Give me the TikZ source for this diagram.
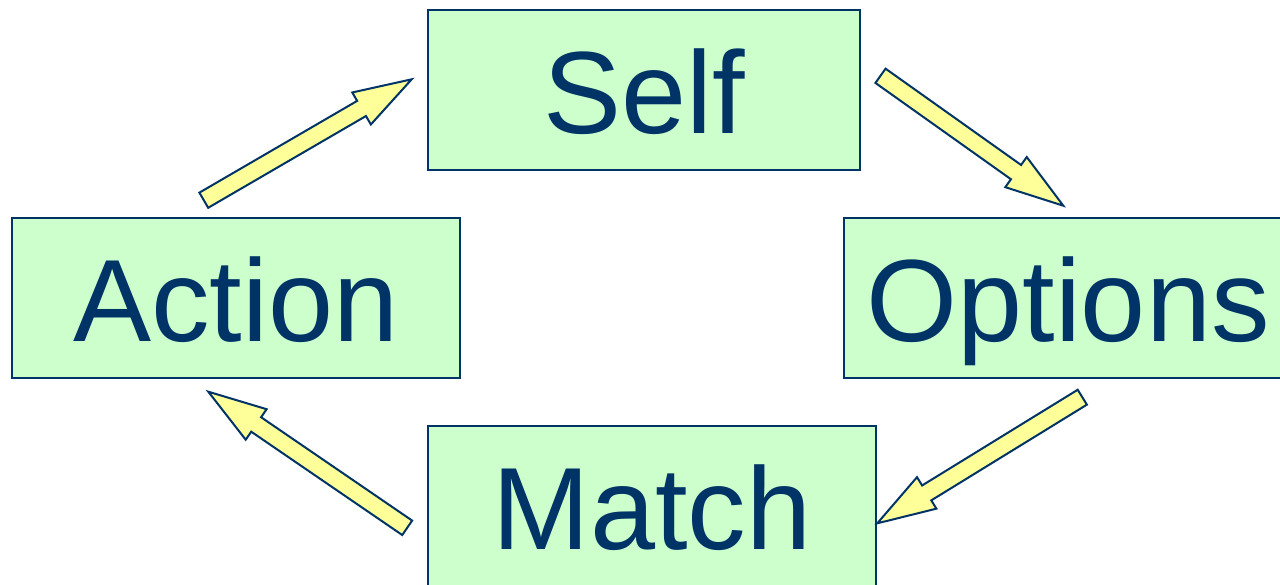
\documentclass[tikz,border=0pt]{standalone}
\usepackage{fontspec}
\setmainfont{Liberation Sans}
\usetikzlibrary{calc}
\definecolor{boxfill}{HTML}{CCFFCC}
\definecolor{navy}{HTML}{003366}
\definecolor{arrowfill}{HTML}{FFFF99}
\tikzset{
  stagebox/.style={draw=navy, line width=2pt, fill=boxfill, rectangle,
    minimum height=160pt, inner sep=0pt, text=navy,
    font=\fontsize{117}{132}\selectfont, text height=87pt, text depth=0pt},
  blockarrowstyle/.style={draw=navy, line width=2pt, fill=arrowfill, line join=miter}
}
\newcommand\blockarrow[2]{%
  \coordinate (#1h) at ($(#2)!58pt!(#1)$);
  \path[blockarrowstyle]
    ($(#1)!8.75pt!90:(#2)$) -- ($(#1h)!8.75pt!-90:(#1)$) -- ($(#1h)!18.5pt!-90:(#1)$)
    -- (#2) -- ($(#1h)!18.5pt!90:(#1)$) -- ($(#1h)!8.75pt!90:(#1)$)
    -- ($(#1)!8.75pt!-90:(#2)$) -- cycle;}
\begin{document}
\begin{tikzpicture}[x=1pt,y=-1pt]
\useasboundingbox (0,0) rectangle (1280,584);
\node[stagebox, minimum width=432pt] (self) at (644,90) {Self};
\node[stagebox, minimum width=448pt] (action) at (236,298) {Action};
\node[stagebox, minimum width=448pt] (options) at (1068,298) {Options};
\node[stagebox, minimum width=448pt] (match) at (652,506) {Match};
% arrow end points
\coordinate (a1t) at (203.8,200.2);  \coordinate (a1p) at (411.7,79.3);
\coordinate (a2t) at (880.5,75.8);   \coordinate (a2p) at (1063.3,205.7);
\coordinate (a3t) at (1082.3,397.2); \coordinate (a3p) at (877.3,523.3);
\coordinate (a4t) at (407.2,527.8);  \coordinate (a4p) at (208.3,391.7);
\blockarrow{a1t}{a1p}
\blockarrow{a2t}{a2p}
\blockarrow{a3t}{a3p}
\blockarrow{a4t}{a4p}
\end{tikzpicture}
\end{document}
